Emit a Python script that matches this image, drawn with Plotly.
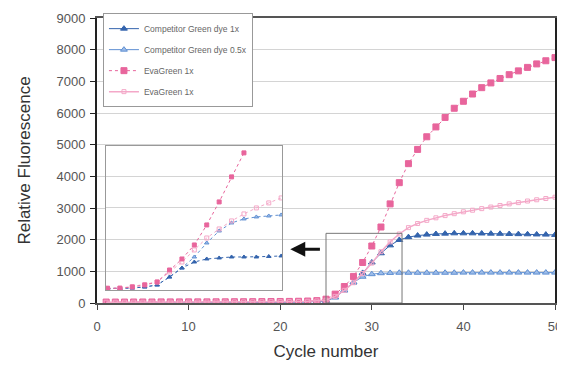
import plotly.graph_objects as go

# ---------------- data (main plot) ----------------
cycles = list(range(1, 51))

comp_1x = [10, 10, 12, 12, 14, 14, 15, 15, 16, 16, 18, 18, 20, 20, 22, 22, 24, 24, 26, 28,
           30, 32, 36, 45, 70, 180, 400, 650, 950, 1280, 1570, 1820, 1990, 2080, 2130, 2160,
           2180, 2190, 2200, 2200, 2200, 2195, 2190, 2185, 2180, 2175, 2170, 2165, 2160, 2150]

comp_05x = [10, 10, 12, 12, 14, 14, 15, 15, 16, 16, 18, 18, 20, 20, 22, 22, 24, 24, 26, 28,
            30, 32, 36, 45, 70, 180, 400, 650, 830, 910, 940, 950, 955, 955, 955, 955,
            955, 955, 955, 960, 960, 960, 960, 960, 960, 960, 960, 960, 960, 960]

eva_1x_a = [30, 30, 30, 32, 32, 32, 34, 34, 34, 36, 36, 36, 38, 38, 40, 40, 42, 44, 46, 48,
            50, 55, 62, 75, 120, 280, 520, 840, 1280, 1800, 2400, 3130, 3800, 4400, 4850, 5250,
            5560, 5860, 6150, 6370, 6600, 6800, 6950, 7090, 7210, 7330, 7440, 7550, 7650, 7750]

eva_1x_b = [25, 25, 25, 26, 26, 26, 28, 28, 28, 30, 30, 30, 32, 32, 34, 34, 36, 38, 40, 42,
            44, 48, 55, 65, 90, 210, 400, 640, 930, 1260, 1620, 1930, 2180, 2380, 2510, 2610,
            2690, 2760, 2820, 2880, 2930, 2980, 3030, 3080, 3130, 3170, 3220, 3260, 3300, 3340]

# ---------------- data (magnified inset) ----------------
inset_cycles = list(range(20, 35))
inset_eva_a = [464, 464, 505, 568, 662, 1041, 1388, 1830, 2460, 3186, 3975, 4732]
inset_eva_b = [464, 473, 520, 584, 662, 978, 1293, 1672, 2050, 2334, 2587, 2808, 2997, 3155, 3312]
inset_comp_hi = [457, 457, 473, 505, 568, 820, 1104, 1451, 1893, 2271, 2524, 2650, 2713, 2744, 2776]
inset_comp_lo = [457, 457, 473, 505, 568, 820, 1104, 1293, 1388, 1420, 1451, 1451, 1451, 1467, 1483]

y_ticks = [0, 1000, 2000, 3000, 4000, 5000, 6000, 7000, 8000, 9000]
x_ticks = [0, 10, 20, 30, 40, 50]

names = ["Competitor Green dye 1x", "Competitor Green dye 0.5x", "EvaGreen 1x", "EvaGreen 1x"]

DARK_BLUE = "#3464ad"
LIGHT_BLUE = "#5f8fd2"
PINK = "#e8659c"
LIGHT_PINK = "#f4a8c8"

fig = go.Figure()

styles = [
    dict(color=DARK_BLUE, symbol="triangle-up", fill=DARK_BLUE, lw=1, size=6),
    dict(color=LIGHT_BLUE, symbol="triangle-up", fill="#9dbce8", lw=1, size=6),
    dict(color=PINK, symbol="square", fill=PINK, lw=1, size=6),
    dict(color=LIGHT_PINK, symbol="square-open", fill=LIGHT_PINK, lw=1.5, size=4),
]
series = [comp_1x, comp_05x, eva_1x_a, eva_1x_b]

for i, (nm, ys, st) in enumerate(zip(names, series, styles)):
    fig.add_trace(go.Scatter(
        x=cycles, y=ys, name=nm, mode="lines+markers",
        legendgroup=f"g{i}",
        line=dict(color=st["color"], width=st["lw"], dash="dot" if i == 2 else "solid"),
        marker=dict(symbol=st["symbol"], size=st["size"], color=st["fill"],
                    line=dict(color=st["color"], width=1)),
        xaxis="x", yaxis="y",
    ))

inset_series = [
    (inset_comp_hi, styles[1]),
    (inset_comp_lo, styles[0]),
    (inset_eva_b, styles[3]),
    (inset_eva_a, styles[2]),
]
for ys, st in inset_series:
    fig.add_trace(go.Scatter(
        x=inset_cycles[:len(ys)], y=ys, mode="lines+markers", showlegend=False,
        line=dict(color=st["color"], width=1, dash="dot"),
        marker=dict(symbol=st["symbol"], size=4, color=st["fill"],
                    line=dict(color=st["color"], width=1)),
        xaxis="x2", yaxis="y2",
    ))

font_family = "Liberation Sans, Arial, sans-serif"

fig.update_layout(
    width=557, height=357,
    margin=dict(l=89, r=10, t=10, b=62, autoexpand=False),
    paper_bgcolor="white", plot_bgcolor="white",
    font=dict(family=font_family, color="#444", size=11),
    showlegend=True,
    legend=dict(
        x=0.013, y=1.017, xanchor="left", yanchor="top",
        bgcolor="white", bordercolor="#999", borderwidth=1,
        font=dict(size=8.5, color="#666"),
        tracegroupgap=2, itemwidth=30,
    ),
    xaxis=dict(
        range=[0, 50], tickvals=x_ticks, ticks="outside", ticklen=5, tickcolor="#444",
        showline=True, linecolor="#555", linewidth=1.5, mirror=True,
        showgrid=False, zeroline=False, automargin=False,
        ticklabelstandoff=6,
        title=dict(text="Cycle number", font=dict(size=17, color="#333"), standoff=12),
        tickfont=dict(size=13, color="#555"),
        domain=[0, 1],
    ),
    yaxis=dict(
        range=[0, 9000], tickvals=y_ticks, ticks="outside", ticklen=5, tickcolor="#222",
        showline=True, linecolor="#222", linewidth=2, mirror=True,
        showgrid=True, gridcolor="#d4d4d4", gridwidth=1, zeroline=False, automargin=False,
        ticklabelstandoff=2,
        title=dict(text="Relative Fluorescence", font=dict(size=17, color="#333"), standoff=22),
        tickfont=dict(size=13, color="#555"),
        domain=[0, 1],
    ),
    xaxis2=dict(
        domain=[0.0197, 0.404], anchor="y2", range=[19.88, 34.07],
        showticklabels=False, ticks="", showgrid=False, zeroline=False,
        showline=True, linecolor="#999", linewidth=1, mirror=True,
    ),
    yaxis2=dict(
        domain=[0.0456, 0.551], anchor="x2", range=[410, 4950],
        showticklabels=False, ticks="", showgrid=True, gridcolor="#d4d4d4",
        tickvals=[1000, 2000, 3000, 4000], zeroline=False,
        showline=True, linecolor="#999", linewidth=1, mirror=True,
    ),
    shapes=[
        dict(type="rect", xref="x", yref="y", x0=25, x1=33.3, y0=0, y1=2200,
             line=dict(color="#777", width=1)),
    ],
    annotations=[
        dict(x=21.1, y=1700, xref="x", yref="y", ax=24.5, ay=1700, axref="x", ayref="y",
             showarrow=True, arrowhead=2, arrowsize=1, arrowwidth=3, arrowcolor="#111", text=""),
    ],
)

fig.write_html("out.html")
